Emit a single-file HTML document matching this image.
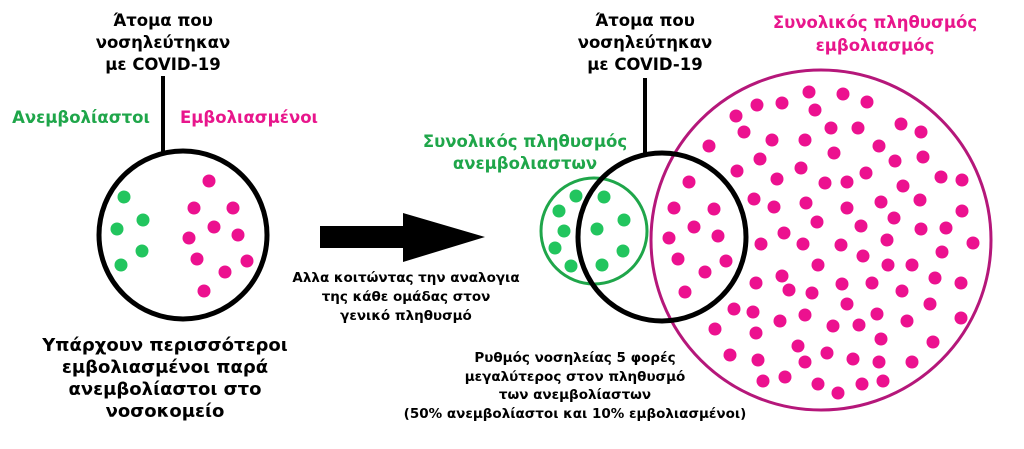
<!DOCTYPE html>
<html><head><meta charset="utf-8"><style>
html,body{margin:0;padding:0;background:#fff;}
svg text{font-family:"DejaVu Sans","Liberation Sans",sans-serif;font-weight:bold;text-anchor:middle;}
</style></head><body>
<svg width="1024" height="444" viewBox="0 0 1024 444" xmlns="http://www.w3.org/2000/svg">
<g font-size="16.5" fill="#000">
<text x="163" y="26">Άτομα που</text>
<text x="163" y="48">νοσηλεύτηκαν</text>
<text x="163" y="70">με COVID-19</text>
<text x="645" y="26">Άτομα που</text>
<text x="645" y="48">νοσηλεύτηκαν</text>
<text x="645" y="70">με COVID-19</text>
</g>
<text x="81" y="123" font-size="16.5" fill="#1fa64a">Ανεμβολίαστοι</text>
<text x="249" y="123" font-size="16.5" fill="#e8168c">Εμβολιασμένοι</text>
<text x="875" y="28" font-size="16.5" fill="#e8168c">Συνολικός πληθυσμός</text>
<text x="875" y="51" font-size="16.5" fill="#e8168c">εμβολιασμός</text>
<text x="525" y="147" font-size="16.5" fill="#1fa64a">Συνολικός πληθυσμός</text>
<text x="525" y="169" font-size="16.5" fill="#1fa64a">ανεμβολιαστων</text>
<line x1="163" y1="76" x2="163" y2="153" stroke="#000" stroke-width="4"/>
<circle cx="183" cy="235" r="84" fill="none" stroke="#000" stroke-width="5"/>
<g fill="#22c55e">
<circle cx="124" cy="197" r="6.5"/><circle cx="143" cy="220" r="6.5"/><circle cx="117" cy="229" r="6.5"/><circle cx="142" cy="251" r="6.5"/><circle cx="121" cy="265" r="6.5"/>
</g>
<g fill="#ec118f">
<circle cx="209" cy="181" r="6.5"/><circle cx="194" cy="208" r="6.5"/><circle cx="233" cy="208" r="6.5"/><circle cx="214" cy="227" r="6.5"/><circle cx="189" cy="238" r="6.5"/><circle cx="238" cy="235" r="6.5"/><circle cx="197" cy="259" r="6.5"/><circle cx="247" cy="261" r="6.5"/><circle cx="225" cy="272" r="6.5"/><circle cx="204" cy="291" r="6.5"/>
</g>
<polygon points="320,226 403,226 403,213 485,237 403,262 403,248 320,248" fill="#000"/>
<g font-size="13.5">
<text x="406" y="282">Αλλα κοιτώντας την αναλογια</text>
<text x="406" y="301">της κάθε ομάδας στον</text>
<text x="406" y="320">γενικό πληθυσμό</text>
</g>
<g font-size="18">
<text x="165" y="351">Υπάρχουν περισσότεροι</text>
<text x="165" y="373">εμβολιασμένοι παρά</text>
<text x="165" y="395">ανεμβολίαστοι στο</text>
<text x="165" y="417">νοσοκομείο</text>
</g>
<g font-size="13.5">
<text x="575" y="362">Ρυθμός νοσηλείας 5 φορές</text>
<text x="575" y="381">μεγαλύτερος στον πληθυσμό</text>
<text x="575" y="399">των ανεμβολίαστων</text>
<text x="575" y="418">(50% ανεμβολίαστοι και 10% εμβολιασμένοι)</text>
</g>
<circle cx="821" cy="240" r="170" fill="none" stroke="#b5177a" stroke-width="3"/>
<circle cx="594" cy="231" r="53" fill="none" stroke="#1fa64a" stroke-width="3"/>
<g fill="#22c55e">
<circle cx="576" cy="196" r="6.5"/><circle cx="604" cy="197" r="6.5"/><circle cx="559" cy="211" r="6.5"/><circle cx="624" cy="220" r="6.5"/><circle cx="564" cy="231" r="6.5"/><circle cx="597" cy="229" r="6.5"/><circle cx="555" cy="248" r="6.5"/><circle cx="623" cy="251" r="6.5"/><circle cx="571" cy="266" r="6.5"/><circle cx="602" cy="265" r="6.5"/>
</g>
<line x1="645" y1="78" x2="645" y2="154" stroke="#000" stroke-width="4"/>
<circle cx="662" cy="237" r="84" fill="none" stroke="#000" stroke-width="5"/>
<g fill="#ec118f">
<circle cx="809" cy="92" r="6.5"/><circle cx="843" cy="94" r="6.5"/><circle cx="867" cy="102" r="6.5"/><circle cx="815" cy="110" r="6.5"/><circle cx="757" cy="105" r="6.5"/><circle cx="782" cy="103" r="6.5"/><circle cx="736" cy="116" r="6.5"/><circle cx="744" cy="132" r="6.5"/><circle cx="772" cy="140" r="6.5"/><circle cx="805" cy="140" r="6.5"/><circle cx="831" cy="128" r="6.5"/><circle cx="858" cy="128" r="6.5"/><circle cx="901" cy="124" r="6.5"/><circle cx="921" cy="132" r="6.5"/><circle cx="709" cy="146" r="6.5"/><circle cx="879" cy="146" r="6.5"/><circle cx="834" cy="153" r="6.5"/><circle cx="760" cy="159" r="6.5"/><circle cx="737" cy="171" r="6.5"/><circle cx="801" cy="168" r="6.5"/><circle cx="895" cy="161" r="6.5"/><circle cx="923" cy="157" r="6.5"/><circle cx="866" cy="173" r="6.5"/><circle cx="777" cy="179" r="6.5"/><circle cx="825" cy="183" r="6.5"/><circle cx="847" cy="182" r="6.5"/><circle cx="941" cy="177" r="6.5"/><circle cx="962" cy="180" r="6.5"/><circle cx="903" cy="186" r="6.5"/><circle cx="689" cy="182" r="6.5"/><circle cx="754" cy="199" r="6.5"/><circle cx="774" cy="207" r="6.5"/><circle cx="806" cy="203" r="6.5"/><circle cx="847" cy="208" r="6.5"/><circle cx="881" cy="202" r="6.5"/><circle cx="920" cy="200" r="6.5"/><circle cx="674" cy="208" r="6.5"/><circle cx="714" cy="209" r="6.5"/><circle cx="694" cy="227" r="6.5"/><circle cx="669" cy="238" r="6.5"/><circle cx="718" cy="236" r="6.5"/><circle cx="817" cy="222" r="6.5"/><circle cx="861" cy="226" r="6.5"/><circle cx="894" cy="218" r="6.5"/><circle cx="962" cy="211" r="6.5"/><circle cx="921" cy="229" r="6.5"/><circle cx="946" cy="228" r="6.5"/><circle cx="784" cy="233" r="6.5"/><circle cx="761" cy="244" r="6.5"/><circle cx="803" cy="244" r="6.5"/><circle cx="841" cy="245" r="6.5"/><circle cx="887" cy="240" r="6.5"/><circle cx="973" cy="243" r="6.5"/><circle cx="678" cy="259" r="6.5"/><circle cx="726" cy="261" r="6.5"/><circle cx="942" cy="252" r="6.5"/><circle cx="863" cy="256" r="6.5"/><circle cx="818" cy="265" r="6.5"/><circle cx="888" cy="265" r="6.5"/><circle cx="912" cy="265" r="6.5"/><circle cx="705" cy="272" r="6.5"/><circle cx="685" cy="292" r="6.5"/><circle cx="782" cy="276" r="6.5"/><circle cx="756" cy="283" r="6.5"/><circle cx="789" cy="290" r="6.5"/><circle cx="812" cy="293" r="6.5"/><circle cx="842" cy="284" r="6.5"/><circle cx="872" cy="283" r="6.5"/><circle cx="935" cy="278" r="6.5"/><circle cx="961" cy="283" r="6.5"/><circle cx="902" cy="291" r="6.5"/><circle cx="847" cy="304" r="6.5"/><circle cx="930" cy="304" r="6.5"/><circle cx="734" cy="309" r="6.5"/><circle cx="753" cy="312" r="6.5"/><circle cx="780" cy="321" r="6.5"/><circle cx="805" cy="315" r="6.5"/><circle cx="877" cy="314" r="6.5"/><circle cx="715" cy="329" r="6.5"/><circle cx="756" cy="333" r="6.5"/><circle cx="833" cy="326" r="6.5"/><circle cx="859" cy="325" r="6.5"/><circle cx="907" cy="321" r="6.5"/><circle cx="961" cy="318" r="6.5"/><circle cx="881" cy="339" r="6.5"/><circle cx="798" cy="346" r="6.5"/><circle cx="933" cy="342" r="6.5"/><circle cx="730" cy="355" r="6.5"/><circle cx="758" cy="360" r="6.5"/><circle cx="827" cy="353" r="6.5"/><circle cx="805" cy="362" r="6.5"/><circle cx="853" cy="359" r="6.5"/><circle cx="879" cy="362" r="6.5"/><circle cx="912" cy="362" r="6.5"/><circle cx="763" cy="381" r="6.5"/><circle cx="785" cy="377" r="6.5"/><circle cx="818" cy="384" r="6.5"/><circle cx="838" cy="393" r="6.5"/><circle cx="862" cy="384" r="6.5"/><circle cx="883" cy="381" r="6.5"/>
</g>
</svg>
</body></html>
